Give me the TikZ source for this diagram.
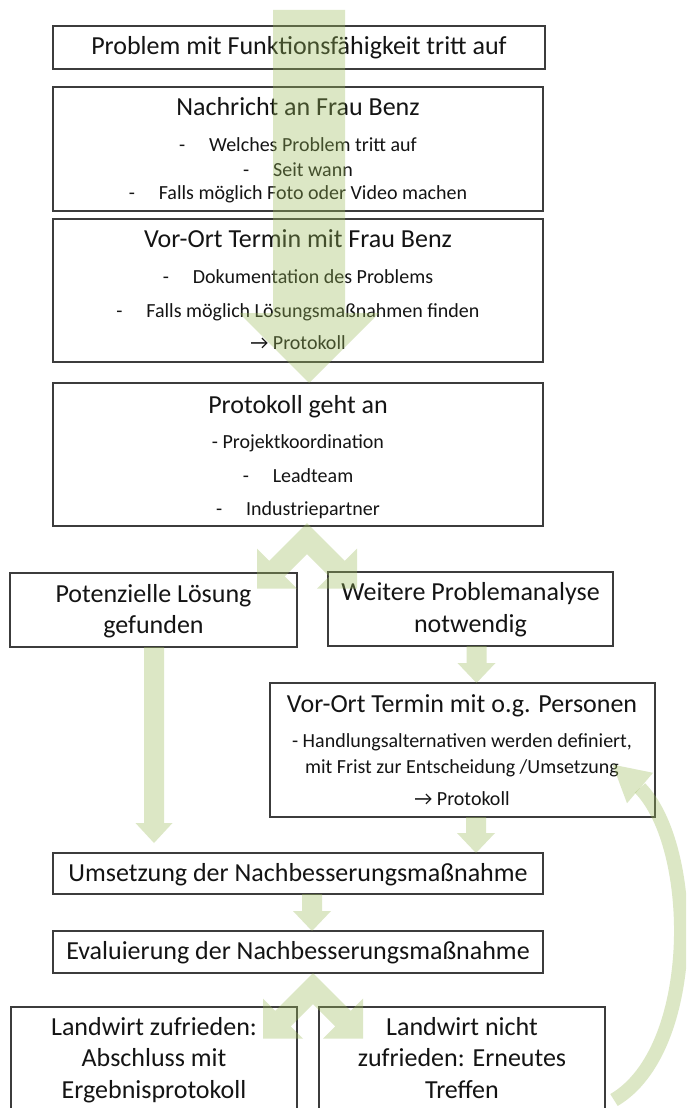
\documentclass[tikz,border=0pt]{standalone}
\usepackage{fontspec}
\setmainfont{Carlito}
\usetikzlibrary{calc}
\definecolor{ogreen}{RGB}{155,187,89}
\definecolor{bordc}{RGB}{60,60,60}
\definecolor{txtc}{RGB}{20,20,20}
\tikzset{
 box/.style={draw=bordc, line width=1.3pt, fill=white, inner sep=0pt, outer sep=0pt},
 ttl/.style={anchor=base, inner sep=0pt, text=txtc, font=\fontsize{26}{30}\selectfont},
 itm/.style={anchor=base, inner sep=0pt, text=txtc, font=\fontsize{20}{24}\selectfont},
 blk/.style={fill=ogreen, fill opacity=0.35, draw=none},
 blkline/.style={draw=ogreen, draw opacity=0.35, line width=14pt, line cap=butt},
}
\newcommand\dsh{\makebox[30pt][l]{-}}
\newcommand\mkbox[5]{%
 \pgfmathsetmacro\bw{#4-#2}\pgfmathsetmacro\bh{#5-#3}%
 \node[box, minimum width=\bw pt, minimum height=\bh pt] (#1) at ({(#2+#4)/2},{(#3+#5)/2}) {};}
\newcommand\vblock[5]{%
 \fill[blk] ($(#1)+(-#3,0)$) -- ($(#2)+(-#3,-#5)$) -- ($(#2)+(-#4,-#5)$) -- (#2)
   -- ($(#2)+(#4,-#5)$) -- ($(#2)+(#3,-#5)$) -- ($(#1)+(#3,0)$) -- cycle;}
\newcommand\splitarr[1]{%
 \fill[blk] (#1) -- ($(#1)+(-37.78,37.78)$) -- ($(#1)+(-50,25.56)$) -- ($(#1)+(-50,65.56)$)
   -- ($(#1)+(-10,65.56)$) -- ($(#1)+(-22.22,53.34)$) -- ($(#1)+(0,31.11)$)
   -- ($(#1)+(22.22,53.34)$) -- ($(#1)+(10,65.56)$) -- ($(#1)+(50,65.56)$)
   -- ($(#1)+(50,25.56)$) -- ($(#1)+(37.78,37.78)$) -- cycle;}
\begin{document}
\begin{tikzpicture}[x=1pt,y=-1pt]
\useasboundingbox (0,0) rectangle (686,1108);
\fill[white] (0,0) rectangle (686,1108);
\clip (0,0) rectangle (686,1108);
% boxes
\mkbox{b1}{53}{26}{545}{69}
\mkbox{b2}{53}{87}{543}{211}
\mkbox{b3}{53}{219}{543}{362}
\mkbox{b4}{53}{383}{543}{526}
\mkbox{b5}{10}{573}{297}{647}
\mkbox{b6}{328}{572}{613}{646}
\mkbox{b7}{270}{683}{655}{817}
\mkbox{b8}{53}{853}{543}{894}
\mkbox{b9}{53}{931}{543}{973}
\mkbox{b10}{11}{1007}{297}{1125}
\mkbox{b11}{319}{1007}{605}{1125}
% texts
\node[ttl] (t1) at (299,55) {Problem mit Funktionsfähigkeit tritt auf};
\node[ttl] (t2) at (298,115) {Nachricht an Frau Benz};
\node[itm] (t2a) at (298,151) {\dsh Welches Problem tritt auf};
\node[itm] (t2b) at (298,176) {\dsh Seit wann};
\node[itm] (t2c) at (298,199) {\dsh Falls möglich Foto oder Video machen};
\node[ttl] (t3) at (298,247) {Vor-Ort Termin mit Frau Benz};
\node[itm] (t3a) at (298,283) {\dsh Dokumentation des Problems};
\node[itm] (t3b) at (298,317) {\dsh Falls möglich Lösungsmaßnahmen finden};
\node[itm] (t3c) at (298,349) {→ Protokoll};
\node[ttl] (t4) at (298,413) {Protokoll geht an};
\node[itm] (t4a) at (298,448) {- Projektkoordination};
\node[itm] (t4b) at (298,482) {\dsh Leadteam};
\node[itm] (t4c) at (298,515) {\dsh Industriepartner};
\node[ttl] (t5a) at (153.5,602) {Potenzielle Lösung};
\node[ttl] (t5b) at (153.5,633) {gefunden};
\node[ttl] (t6a) at (470.5,600) {Weitere Problemanalyse};
\node[ttl] (t6b) at (470.5,632) {notwendig};
\node[ttl] (t7) at (462,712) {Vor-Ort Termin mit o.g. Personen};
\node[itm] (t7a) at (462,747) {- Handlungsalternativen werden definiert,};
\node[itm] (t7b) at (462,773) {mit Frist zur Entscheidung /Umsetzung};
\node[itm] (t7c) at (462,805) {→ Protokoll};
\node[ttl] (t8) at (298,881) {Umsetzung der Nachbesserungsmaßnahme};
\node[ttl] (t9) at (298,959) {Evaluierung der Nachbesserungsmaßnahme};
\node[ttl] (t10a) at (154,1035) {Landwirt zufrieden:};
\node[ttl] (t10b) at (154,1066) {Abschluss mit};
\node[ttl] (t10c) at (154,1098) {Ergebnisprotokoll};
\node[ttl] (t11a) at (462,1035) {Landwirt nicht};
\node[ttl] (t11b) at (462,1066) {zufrieden: Erneutes};
\node[ttl] (t11c) at (462,1098) {Treffen};
% block arrows
\coordinate (s0) at (309,10);
\coordinate (e0) at (s0 |- b4.north);
\vblock{s0}{e0}{36}{70}{70}
\coordinate (sp1) at ($(b4.south)+(9,-3)$);
\splitarr{sp1}
\coordinate (s5) at ($(b5.south)+(0.5,0)$);
\coordinate (e5) at ($(s5 |- b8.north)+(0,-10)$);
\vblock{s5}{e5}{10}{18.5}{20}
\coordinate (s6) at ($(b6.south)+(6,0)$);
\coordinate (e6) at (s6 |- b7.north);
\vblock{s6}{e6}{10}{19}{20}
\coordinate (s7) at ($(b7.south)+(13.5,0)$);
\coordinate (e7) at (s7 |- b8.north);
\vblock{s7}{e7}{10}{19}{20}
\coordinate (s8) at ($(b8.south)+(14,0)$);
\coordinate (e8) at (s8 |- b9.north);
\vblock{s8}{e8}{10}{19}{20}
\coordinate (sp2) at ($(b9.south)+(15,0)$);
\splitarr{sp2}
% curved return arrow
\coordinate (c0) at ($(b11.east)+(9,34)$);
\coordinate (c1) at ($(b7.south east)+(-15,-29)$);
\draw[blkline] (c0) .. controls ($(c0)+(85,-50)$) and ($(c1)+(58,60)$) .. (c1);
\fill[blk] ($(c1)+(13,-15.2)$) -- ($(c1)+(-27.4,-23.4)$) -- ($(c1)+(-13,15.2)$) -- cycle;
\end{tikzpicture}
\end{document}
